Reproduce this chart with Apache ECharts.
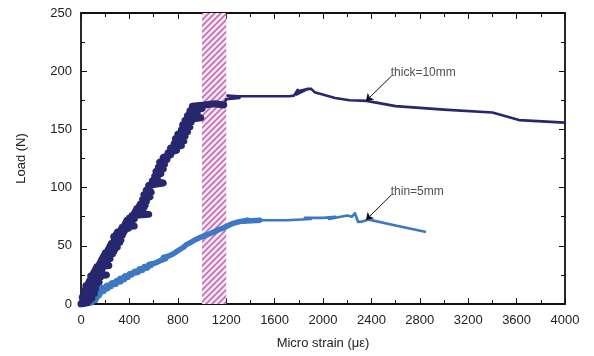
<!DOCTYPE html>
<html>
<head>
<meta charset="utf-8">
<script src="https://cdn.jsdelivr.net/npm/echarts@6/dist/echarts.min.js"></script>
<style>
  html, body { margin: 0; padding: 0; background: #fff; }
  #chart { width: 594px; height: 356px; }
</style>
</head>
<body>
<div id="chart"></div>
<script>
// 厚板 (thick=10mm) 载荷-微应变，前段波动较大
const thickRise = [
  [0, 0], [50, 1], [10, 2], [70, 3], [20, 4], [90, 5], [10, 6], [80, 7], [30, 8],
  [110, 9], [40, 10], [100, 11], [30, 12], [120, 13], [50, 14], [110, 15],
  [40, 16], [130, 17], [60, 18], [150, 19], [70, 20], [130, 21], [90, 22],
  [160, 23], [80, 24], [210, 25], [100, 26], [140, 27], [110, 28], [170, 29],
  [120, 30], [180, 31], [130, 32], [230, 33], [150, 34], [190, 35], [160, 36],
  [220, 37], [170, 38], [240, 39], [180, 40], [220, 41], [190, 42], [260, 43],
  [200, 44], [270, 45], [220, 46], [280, 47], [230, 48], [300, 49], [240, 50],
  [290, 51], [250, 52], [320, 53], [270, 54], [330, 55], [280, 56], [310, 57],
  [270, 58], [340, 59], [290, 60], [350, 61], [300, 62], [360, 63], [330, 64],
  [390, 65], [340, 66], [440, 67], [360, 68], [410, 69], [370, 70], [420, 71],
  [380, 72], [440, 73], [400, 74], [450, 75], [420, 76], [560, 77], [440, 78],
  [500, 79], [450, 80], [510, 81], [460, 82], [520, 83], [480, 84], [530, 85],
  [490, 86], [540, 88], [510, 90], [570, 92], [520, 94], [580, 96], [540, 98],
  [570, 100], [560, 102], [680, 104], [590, 106], [630, 108], [610, 110],
  [660, 112], [620, 114], [680, 116], [640, 118], [690, 120], [650, 122],
  [710, 124], [680, 126], [740, 128], [720, 130], [790, 132], [740, 134],
  [830, 136], [770, 138], [850, 140], [780, 142], [860, 144], [800, 146],
  [880, 148], [830, 150], [900, 152], [840, 154], [910, 156], [860, 158],
  [990, 160], [880, 162], [960, 164], [900, 166], [1000, 168], [920, 170],
  [1020, 171], [1100, 172], [1180, 171]
];
const thickTail = [
  [1180, 171], [1200, 176], [1310, 177], [1210, 179], [1300, 178.5],
  [1500, 178.5], [1720, 178.5], [1760, 179], [1790, 184], [1780, 180],
  [1880, 185], [1800, 183], [1900, 185], [1930, 182], [1960, 181],
  [2100, 177], [2220, 175], [2360, 174.5], [2600, 170], [3000, 167],
  [3400, 164.5], [3620, 158], [4000, 155.8]
];
// 薄板 (thin=5mm)
const thinRise = [
  [0, 0], [90, 1], [10, 2], [120, 3], [30, 4], [130, 5], [50, 6], [150, 7],
  [80, 8], [160, 9], [110, 10], [190, 11], [130, 12], [220, 13], [170, 14],
  [250, 15], [210, 16], [290, 17], [250, 18], [330, 19], [290, 20], [360, 21],
  [320, 22], [390, 23], [360, 24], [420, 25], [400, 26], [470, 27], [440, 28],
  [510, 29], [480, 30], [550, 31], [520, 32], [580, 33], [560, 34], [610, 35],
  [600, 36], [650, 37], [640, 38], [700, 39], [680, 40], [720, 41], [710, 42],
  [760, 43], [750, 44], [790, 45], [780, 46], [820, 47], [810, 48], [850, 49],
  [840, 50], [870, 51], [880, 52], [910, 53], [900, 54], [940, 55], [950, 56],
  [980, 57], [990, 58], [1030, 59], [1040, 60], [1080, 61], [1090, 62],
  [1120, 63], [1140, 64], [1170, 65], [1180, 66], [1210, 67], [1230, 68],
  [1250, 69], [1280, 70], [1320, 71], [1380, 72], [1340, 71], [1480, 72]
];
const thinTail = [
  [1480, 72], [1700, 72], [1900, 73], [1850, 74], [2000, 74], [2100, 75],
  [2050, 73], [2200, 76], [2240, 75], [2264, 78], [2290, 70.5], [2330, 71],
  [2380, 72.5], [2600, 67.5], [2843, 62]
];
// 阴影区间
const bandRange = [1000, 1200];
// 标注: [箭尾 x, 箭尾 y, 箭头 x, 箭头 y, 文本]
const notes = [
  [2568, 196, 2355, 174.4, "thick=10mm"],
  [2568, 94, 2355, 72.2, "thin=5mm"]
];

const xMin = 0, xMax = 4000, xStep = 400;
const yMin = 0, yMax = 250, yStep = 50;

const THICK = "#27276f";
const THIN = "#3c79c2";
const FONT = "Liberation Sans";

function hatch() {
  const c = document.createElement("canvas");
  c.width = 6; c.height = 6;
  const g = c.getContext("2d");
  g.fillStyle = "#f8e8f4";
  g.fillRect(0, 0, 6, 6);
  g.strokeStyle = "#c56cb8";
  g.lineWidth = 1.6;
  g.beginPath();
  g.moveTo(0, 6); g.lineTo(6, 0);
  g.moveTo(-1, 1); g.lineTo(1, -1);
  g.moveTo(5, 7); g.lineTo(7, 5);
  g.stroke();
  return c;
}

const axisCommon = {
  axisLine: { show: true, onZero: false, lineStyle: { color: "#111", width: 1.8 } },
  axisTick: { show: true, inside: true, length: 6, lineStyle: { color: "#111", width: 1 } },
  minorTick: { show: true, splitNumber: 2, length: 4, lineStyle: { color: "#111", width: 1 } },
  splitLine: { show: false },
  minorSplitLine: { show: false }
};

const chart = echarts.init(document.getElementById("chart"));

const lineSeries = (name, data, color, width) => ({
  name, type: "line", data, showSymbol: false, z: 3,
  lineStyle: { color, width, join: "round", cap: "round" },
  itemStyle: { color }, animation: false
});

chart.setOption({
  animation: false,
  grid: { left: 81, right: 29, top: 13, bottom: 52 },
  xAxis: [
    {
      ...axisCommon, type: "value", min: xMin, max: xMax, interval: xStep,
      name: "Micro strain (\u03bc\u03b5)", nameLocation: "middle", nameGap: 33,
      nameTextStyle: { fontFamily: FONT, fontSize: 13, color: "#222" },
      axisLabel: { fontFamily: FONT, fontSize: 13, color: "#222", margin: 10, formatter: v => String(v) }
    },
    {
      ...axisCommon, type: "value", position: "top", min: xMin, max: xMax, interval: xStep,
      axisLabel: { show: false }
    }
  ],
  yAxis: [
    {
      ...axisCommon, type: "value", min: yMin, max: yMax, interval: yStep,
      name: "Load (N)", nameLocation: "middle", nameGap: 53,
      nameTextStyle: { fontFamily: FONT, fontSize: 13, color: "#222" },
      axisLabel: { fontFamily: FONT, fontSize: 13, color: "#222", margin: 9, formatter: v => String(v) }
    },
    {
      ...axisCommon, type: "value", position: "right", min: yMin, max: yMax, interval: yStep,
      axisLabel: { show: false }
    }
  ],
  series: [
    {
      type: "line", data: [], z: 1, silent: true,
      markArea: {
        silent: true,
        itemStyle: { color: { image: hatch(), repeat: "repeat" } },
        data: [[{ xAxis: bandRange[0] }, { xAxis: bandRange[1] }]]
      }
    },
    lineSeries("thin-rise", thinRise, THIN, 5.5),
    lineSeries("thin-tail", thinTail, THIN, 2.6),
    lineSeries("thick-rise", thickRise, THICK, 7),
    lineSeries("thick-tail", thickTail, THICK, 2.6),
    {
      type: "lines", coordinateSystem: "cartesian2d", z: 5, silent: true,
      symbol: ["none", "arrow"], symbolSize: 7,
      lineStyle: { color: "#111", width: 1, opacity: 1 },
      data: notes.map(n => ({ coords: [[n[0], n[1]], [n[2], n[3]]] }))
    },
    {
      type: "scatter", symbolSize: 0, z: 5, silent: true,
      data: notes.map(n => [n[0], n[1], n[4]]),
      label: {
        show: true, position: "right", distance: 0, offset: [-1, -3],
        formatter: p => p.value[2],
        fontFamily: FONT, fontSize: 12, color: "#222"
      }
    }
  ]
});
</script>
</body>
</html>
